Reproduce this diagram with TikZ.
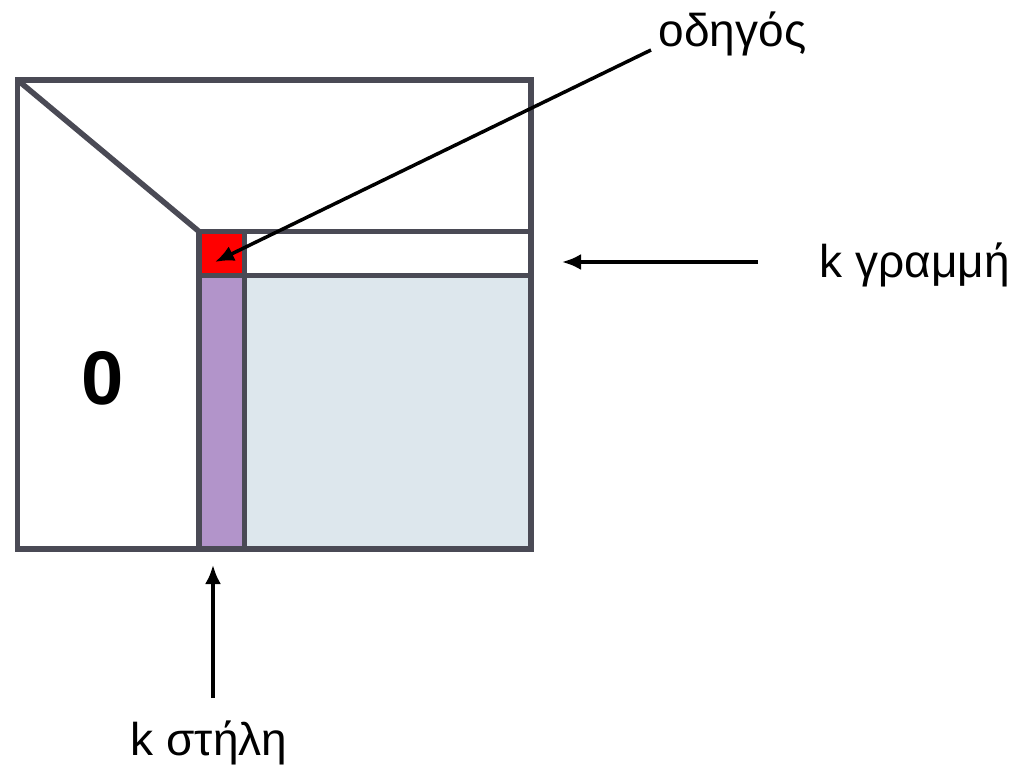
\documentclass[tikz,border=0pt]{standalone}
\usepackage{fontspec}
\setmainfont{Liberation Sans}
\usetikzlibrary{arrows.meta}
\definecolor{frame}{HTML}{4A4A55}
\definecolor{colpurple}{HTML}{B294CA}
\definecolor{restblue}{HTML}{DDE7ED}

\begin{document}
\begin{tikzpicture}[x=1pt,y=-1pt,line width=5.5pt,>={Latex[length=19pt,width=16pt]},
  lbl/.style={font=\fontsize{46}{52}\selectfont,inner sep=0pt},
  pointer/.style={->,line width=3.5pt,black}]
  \useasboundingbox (0,0) rectangle (1021,765);
  \coordinate (TL) at (17.5,80);
  \coordinate (BR) at (531,549);
  \coordinate (K) at (199,231.5);
  \coordinate (KR) at (244.5,275.5);
  % --- fills ---
  \fill[restblue] (KR) rectangle (BR);
  \fill[colpurple] (199,275.5) rectangle (244.5,549);
  \node[fill=red,inner sep=0pt,minimum size=45pt] (pivot) at (221.75,253.5) {};
  % --- matrix frame ---
  \draw[frame] (TL) rectangle (BR);
  \draw[frame] (TL) -- (K);
  \draw[frame] (K) rectangle (531,275.5);
  \draw[frame] (K) -- (199,549);
  \draw[frame] (244.5,231.5) -- (244.5,549);
  \node[font=\bfseries\fontsize{76}{80}\selectfont,inner sep=0pt] (zero) at (103,378) {0};
  % --- labels ---
  \node[lbl,anchor=base west] (lead) at (656,47) {οδηγός};
  \node[lbl,anchor=base west] (row) at (817,277) {k γραμμή};
  \node[lbl,anchor=base west] (col) at (128,755) {k στήλη};
  \coordinate (leadtail) at (651,50);
  \coordinate (rowtail) at (758,262);
  \coordinate (rowtip) at (562,262);
  \coordinate (coltail) at (213,698);
  \coordinate (coltip) at (213,565);
  % arrows
  \draw[pointer] (leadtail) -- (215,262);
  \draw[pointer] (rowtail) -- (rowtip);
  \draw[pointer] (coltail) -- (coltip);
\end{tikzpicture}
\end{document}
